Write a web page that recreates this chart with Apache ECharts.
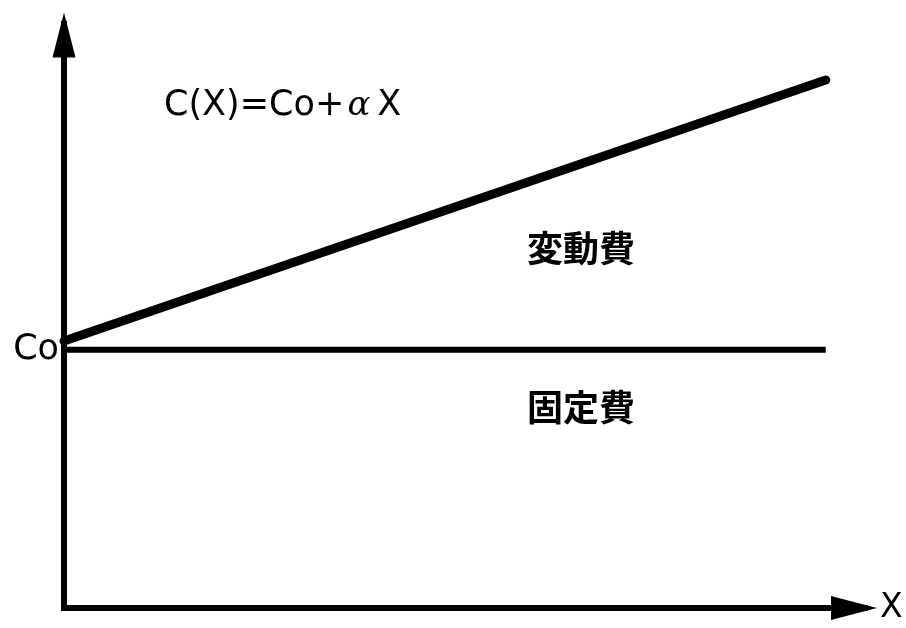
<!DOCTYPE html>
<html>
<head>
<meta charset="utf-8">
<script src="https://cdn.jsdelivr.net/npm/echarts@6/dist/echarts.min.js"></script>
<style>
  html, body { margin: 0; padding: 0; background: #fff; }
  #chartMain { width: 906px; height: 628px; }
</style>
</head>
<body>
<div id="chartMain"></div>
<script>
// 操業度 X と費用 C(X)
var xValues = [0, 95.1];
var fixedCost = [44.2, 44.2];      // 固定費 Co
var totalCost = [45.7, 90.4];      // C(X) = Co + αX
var coTick = [44.2];
var coLabel = 'Co';
var xName = 'X';
var formulaText = 'C(X)=Co+';
var variableText = '変動費';
var fixedText = '固定費';

var chartMain = document.getElementById('chartMain');
var mychart = echarts.init(chartMain);

var axisLineStyle = { color: '#000', width: 6, cap: 'square' };

var option = {
    backgroundColor: '#fff',
    animation: false,
    grid: { left: 64, right: 41, top: 24, bottom: 20 },
    xAxis: {
        type: 'value',
        min: 0,
        max: 100,
        name: xName,
        nameLocation: 'end',
        nameGap: 15,
        nameTextStyle: { color: '#000', fontSize: 33, fontFamily: 'DejaVu Sans' },
        axisLine: { lineStyle: axisLineStyle, symbol: ['none', 'triangle'], symbolSize: [24, 46], symbolOffset: [0, -11] },
        axisTick: { show: false },
        axisLabel: { show: false },
        splitLine: { show: false }
    },
    yAxis: {
        type: 'value',
        min: 0,
        max: 100,
        axisLine: { show: true, lineStyle: axisLineStyle, symbol: ['none', 'triangle'], symbolSize: [23, 45], symbolOffset: [0, -11] },
        axisTick: { show: false },
        axisLabel: {
            customValues: coTick,
            formatter: function () { return coLabel; },
            color: '#000',
            fontSize: 35,
            fontFamily: 'DejaVu Sans',
            margin: 5
        },
        splitLine: { show: false }
    },
    series: [
        {
            name: '固定費',
            type: 'line',
            data: xValues.map(function (x, i) { return [x, fixedCost[i]]; }),
            symbol: 'none',
            lineStyle: { color: '#000', width: 6 }
        },
        {
            name: 'C(X)',
            type: 'line',
            data: xValues.map(function (x, i) { return [x, totalCost[i]]; }),
            symbol: 'none',
            lineStyle: { color: '#000', width: 9, cap: 'round' }
        }
    ],
    graphic: [
        {
            type: 'text',
            x: 164,
            y: 106,
            style: {
                text: '{n|' + formulaText + '} {a|α}  {n|X}',
                textVerticalAlign: 'middle',
                rich: {
                    n: { fontSize: 35, fontFamily: 'DejaVu Sans', fill: '#000' },
                    a: { fontSize: 34, fontFamily: 'DejaVu Serif', fontStyle: 'italic', fill: '#000' }
                }
            }
        },
        {
            type: 'text',
            x: 581,
            y: 248,
            style: {
                text: variableText,
                textAlign: 'center',
                textVerticalAlign: 'middle',
                fontSize: 36,
                fontWeight: 'bold',
                fontFamily: 'Noto Sans CJK JP',
                fill: '#000'
            }
        },
        {
            type: 'text',
            x: 581,
            y: 407,
            style: {
                text: fixedText,
                textAlign: 'center',
                textVerticalAlign: 'middle',
                fontSize: 36,
                fontWeight: 'bold',
                fontFamily: 'Noto Sans CJK JP',
                fill: '#000'
            }
        }
    ]
};

mychart.setOption(option);
</script>
</body>
</html>
